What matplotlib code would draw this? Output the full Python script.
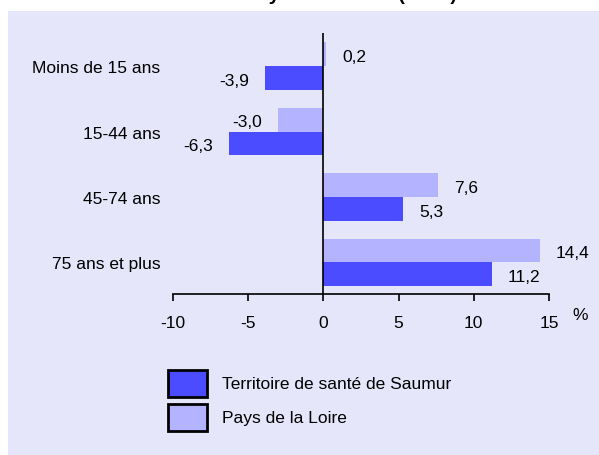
import matplotlib
matplotlib.use("Agg")
import matplotlib.pyplot as plt
from matplotlib.patches import Rectangle

plt.rcParams['font.family'] = ['Liberation Sans', 'DejaVu Sans']

categories = ["Moins de 15 ans", "15-44 ans", "45-74 ans", "75 ans et plus"]
saumur = [-3.9, -6.3, 5.3, 11.2]
pdl = [0.2, -3.0, 7.6, 14.4]
series_names = ["Territoire de santé de Saumur", "Pays de la Loire"]
xticks = [-10, -5, 0, 5, 10, 15]
title = "Saumur et Pays de la Loire (en %)"

W, H = 599, 456
dark = "#4B4BFF"
light = "#B3B3FF"
bg = "#E6E6FA"
FS = 12.5

fig = plt.figure(figsize=(W / 100, H / 100), dpi=100)
fig.patch.set_facecolor("white")

def fx(px):
    return px / W

def fy(py):
    return 1 - py / H

# panel background
fig.patches.append(Rectangle((fx(8), 0), 1 - fx(8), fy(12), transform=fig.transFigure,
                             facecolor=bg, edgecolor="none", zorder=-5))

fig.text(fx(300), fy(0), title, ha="center", va="baseline", fontsize=14,
         fontweight="bold")

ax = fig.add_axes([fx(173), fy(295), fx(549) - fx(173), fy(34) - fy(295)])
ax.set_zorder(2)
ax.set_facecolor("none")
ax.set_xlim(-10, 15)
ax.set_ylim(3.481, -0.504)

h = 0.366
pos = list(range(len(categories)))
ax.barh([p - h / 2 for p in pos], pdl, height=h, color=light, zorder=2)
ax.barh([p + h / 2 for p in pos], saumur, height=h, color=dark, zorder=2)

def fmt(v):
    return f"{v:.1f}".replace(".", ",")

for p, v in zip(pos, pdl):
    ax.annotate(fmt(v), (v, p - h / 2), xytext=(11.5 if v >= 0 else -11.5, -1.5),
                textcoords="offset points", ha="left" if v >= 0 else "right",
                va="center", fontsize=FS, annotation_clip=False)
for p, v in zip(pos, saumur):
    ax.annotate(fmt(v), (v, p + h / 2), xytext=(11.5 if v >= 0 else -11.5, -1.5),
                textcoords="offset points", ha="left" if v >= 0 else "right",
                va="center", fontsize=FS, annotation_clip=False)

ax.axvline(0, color="black", lw=1.2, zorder=3)

for s in ["top", "right", "left"]:
    ax.spines[s].set_visible(False)
ax.spines["bottom"].set_linewidth(1.2)
ax.spines["bottom"].set_bounds(-10, 15)

ax.set_xticks(xticks)
ax.set_xticklabels([str(t) for t in xticks], fontsize=FS)
ax.tick_params(axis="x", direction="out", length=5, width=1.2, pad=10)
ax.set_yticks(pos)
ax.set_yticklabels(categories, fontsize=FS)
ax.tick_params(axis="y", length=0, pad=9)

fig.text(fx(580), fy(316), "%", ha="center", va="center", fontsize=FS)

# legend
for (y0, y1), c, name in zip([(371, 398), (405, 432)], [dark, light], series_names):
    fig.patches.append(Rectangle((fx(168), fy(y1)), fx(207) - fx(168), fy(y0) - fy(y1),
                                 transform=fig.transFigure, facecolor=c,
                                 edgecolor="black", lw=2, zorder=2))
    fig.text(fx(222), fy((y0 + y1) / 2), name, ha="left", va="center", fontsize=FS)

fig.savefig("out.png", dpi=100)
